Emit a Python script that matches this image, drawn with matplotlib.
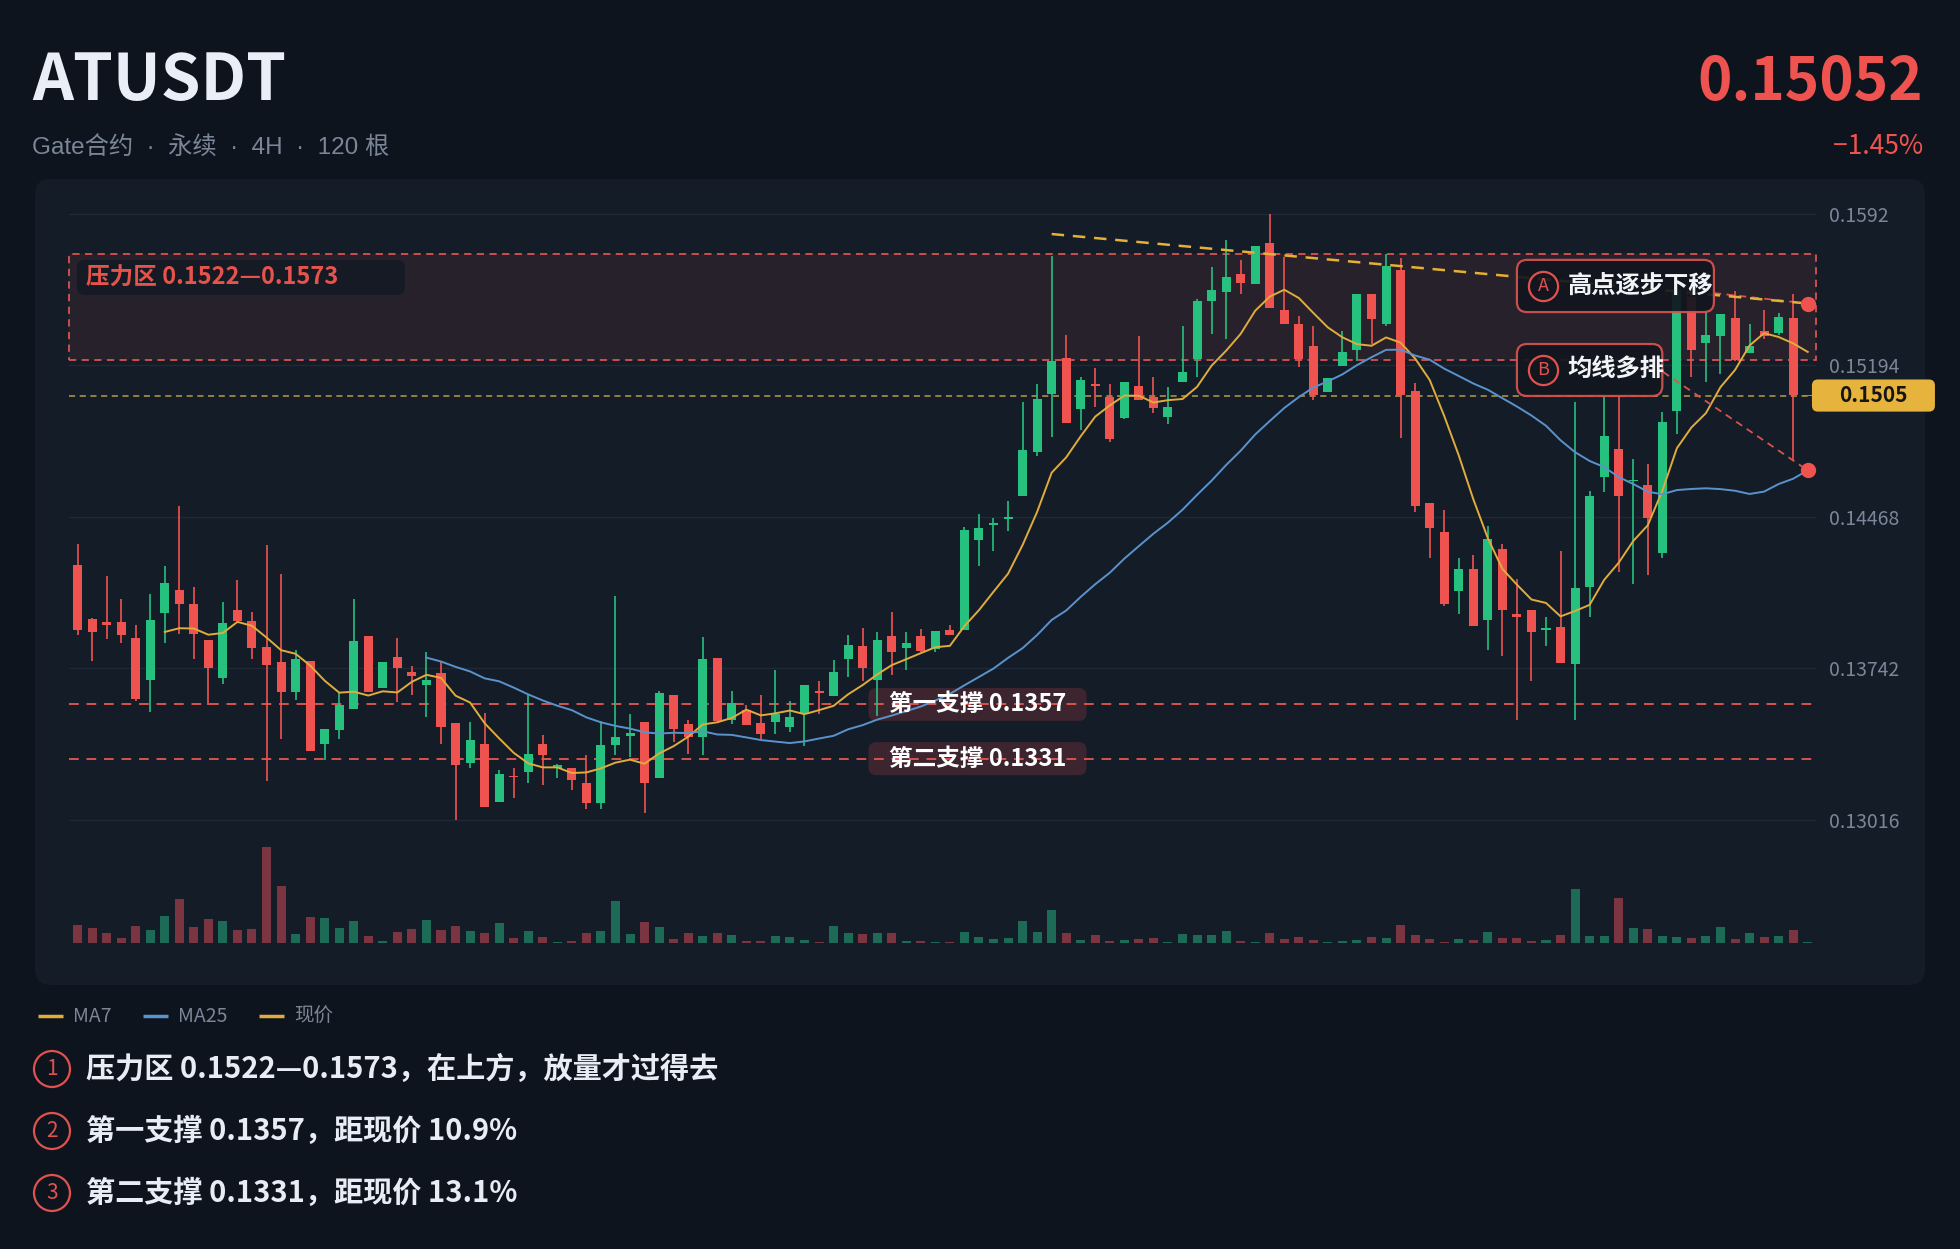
import numpy as np
import pandas as pd
import matplotlib
matplotlib.use('Agg')
import matplotlib.pyplot as plt
from matplotlib.patches import FancyBboxPatch, Rectangle, Circle

plt.rcParams['font.family'] = ['Noto Sans CJK SC', 'DejaVu Sans']

# ---- data (4H candles, 120 bars) ----
opens = [0.14240, 0.13978, 0.13966, 0.13966, 0.13888, 0.13689, 0.14009, 0.14119, 0.14049, 0.13878,
         0.13697, 0.14021, 0.13970, 0.13846, 0.13772, 0.13629, 0.13776, 0.13378, 0.13448, 0.13549,
         0.13896, 0.13649, 0.13796, 0.13727, 0.13663, 0.13719, 0.13480, 0.13288, 0.13380, 0.13101,
         0.13226, 0.13244, 0.13378, 0.13264, 0.13264, 0.13195, 0.13099, 0.13374, 0.13420, 0.13484,
         0.13219, 0.13613, 0.13478, 0.13414, 0.13792, 0.13493, 0.13543, 0.13480, 0.13484, 0.13460,
         0.13523, 0.13633, 0.13609, 0.13786, 0.13852, 0.13689, 0.13896, 0.13842, 0.13896, 0.13836,
         0.13926, 0.13928, 0.14360, 0.14428, 0.14458, 0.14569, 0.14778, 0.15057, 0.15231, 0.14987,
         0.15103, 0.15043, 0.14944, 0.15097, 0.15043, 0.14948, 0.15117, 0.15223, 0.15501, 0.15545,
         0.15631, 0.15585, 0.15780, 0.15460, 0.15392, 0.15286, 0.15067, 0.15193, 0.15266, 0.15535,
         0.15392, 0.15651, 0.15073, 0.14533, 0.14394, 0.14111, 0.14217, 0.13976, 0.14314, 0.14005,
         0.14021, 0.13926, 0.13942, 0.13762, 0.14131, 0.14659, 0.14794, 0.14639, 0.14623, 0.14296,
         0.14974, 0.15520, 0.15300, 0.15336, 0.15420, 0.15256, 0.15360, 0.15352, 0.15420, 0.15050]
highs = [0.14340, 0.13982, 0.14185, 0.14075, 0.13950, 0.14101, 0.14232, 0.14523, 0.14131, 0.13878,
         0.14061, 0.14167, 0.14011, 0.14334, 0.14195, 0.13832, 0.13776, 0.13454, 0.13627, 0.14077,
         0.13896, 0.13772, 0.13890, 0.13752, 0.13822, 0.13772, 0.13480, 0.13484, 0.13527, 0.13254,
         0.13264, 0.13613, 0.13424, 0.13284, 0.13264, 0.13328, 0.13488, 0.14091, 0.13523, 0.13484,
         0.13633, 0.13613, 0.13493, 0.13892, 0.13792, 0.13633, 0.13567, 0.13617, 0.13737, 0.13587,
         0.13663, 0.13683, 0.13782, 0.13902, 0.13936, 0.13916, 0.14011, 0.13916, 0.13932, 0.13922,
         0.13952, 0.14420, 0.14480, 0.14464, 0.14543, 0.15017, 0.15103, 0.15719, 0.15342, 0.15141,
         0.15183, 0.15107, 0.15117, 0.15336, 0.15141, 0.15091, 0.15382, 0.15515, 0.15665, 0.15794,
         0.15699, 0.15768, 0.15920, 0.15715, 0.15430, 0.15382, 0.15133, 0.15360, 0.15539, 0.15535,
         0.15729, 0.15709, 0.15110, 0.14533, 0.14503, 0.14270, 0.14284, 0.14424, 0.14340, 0.14171,
         0.14021, 0.13991, 0.14304, 0.15021, 0.14593, 0.15047, 0.15047, 0.14748, 0.14722, 0.14972,
         0.15571, 0.15560, 0.15460, 0.15440, 0.15551, 0.15392, 0.15460, 0.15446, 0.15539, 0.15052]
lows = [0.13902, 0.13776, 0.13882, 0.13866, 0.13587, 0.13533, 0.13866, 0.13908, 0.13788, 0.13567,
        0.13669, 0.13968, 0.13788, 0.13205, 0.13404, 0.13589, 0.13348, 0.13304, 0.13404, 0.13549,
        0.13629, 0.13649, 0.13583, 0.13617, 0.13509, 0.13378, 0.13015, 0.13264, 0.13079, 0.13101,
        0.13121, 0.13195, 0.13185, 0.13215, 0.13161, 0.13071, 0.13069, 0.13328, 0.13320, 0.13051,
        0.13219, 0.13388, 0.13330, 0.13328, 0.13488, 0.13474, 0.13470, 0.13404, 0.13430, 0.13440,
        0.13370, 0.13523, 0.13609, 0.13703, 0.13683, 0.13513, 0.13713, 0.13737, 0.13822, 0.13822,
        0.13902, 0.13928, 0.14231, 0.14304, 0.14400, 0.14569, 0.14762, 0.14852, 0.14918, 0.14884,
        0.14993, 0.14828, 0.14938, 0.15027, 0.14964, 0.14914, 0.15117, 0.15137, 0.15346, 0.15320,
        0.15539, 0.15585, 0.15470, 0.15392, 0.15187, 0.15027, 0.15067, 0.15193, 0.15217, 0.15296,
        0.15382, 0.14848, 0.14490, 0.14270, 0.14041, 0.14001, 0.13946, 0.13832, 0.13802, 0.13497,
        0.13683, 0.13852, 0.13766, 0.13493, 0.13991, 0.14589, 0.14205, 0.14147, 0.14191, 0.14270,
        0.14868, 0.15141, 0.15117, 0.15151, 0.15216, 0.15256, 0.15320, 0.15340, 0.14738, 0.15050]
closes = [0.13928, 0.13918, 0.13950, 0.13902, 0.13597, 0.13974, 0.14151, 0.14053, 0.13908, 0.13742,
          0.13962, 0.13968, 0.13842, 0.13758, 0.13629, 0.13786, 0.13348, 0.13454, 0.13567, 0.13874,
          0.13629, 0.13772, 0.13746, 0.13707, 0.13687, 0.13464, 0.13278, 0.13398, 0.13079, 0.13238,
          0.13222, 0.13334, 0.13328, 0.13278, 0.13209, 0.13099, 0.13374, 0.13414, 0.13434, 0.13191,
          0.13623, 0.13454, 0.13414, 0.13786, 0.13488, 0.13579, 0.13470, 0.13430, 0.13523, 0.13509,
          0.13663, 0.13623, 0.13723, 0.13856, 0.13742, 0.13878, 0.13822, 0.13862, 0.13826, 0.13922,
          0.13902, 0.14404, 0.14414, 0.14438, 0.14468, 0.14788, 0.15033, 0.15217, 0.14918, 0.15123,
          0.15097, 0.14844, 0.15117, 0.15027, 0.14991, 0.14997, 0.15161, 0.15505, 0.15555, 0.15619,
          0.15591, 0.15768, 0.15470, 0.15392, 0.15227, 0.15053, 0.15133, 0.15260, 0.15539, 0.15416,
          0.15671, 0.15053, 0.14519, 0.14416, 0.14051, 0.14217, 0.13946, 0.14364, 0.14021, 0.13991,
          0.13918, 0.13936, 0.13766, 0.14127, 0.14569, 0.14858, 0.14569, 0.14645, 0.14464, 0.14922,
          0.15555, 0.15266, 0.15340, 0.15440, 0.15220, 0.15286, 0.15336, 0.15426, 0.15053, 0.15052]
volumes = [54, 45, 30, 14, 52, 39, 80, 131, 48, 72,
           65, 40, 43, 288, 171, 26, 79, 74, 44, 66,
           21, 5, 34, 42, 69, 39, 51, 35, 30, 60,
           15, 36, 17, 2, 6, 29, 36, 125, 26, 63,
           48, 12, 30, 22, 29, 23, 6, 6, 21, 19,
           9, 3, 52, 30, 27, 31, 30, 6, 7, 4,
           3, 33, 18, 12, 14, 66, 33, 98, 29, 8,
           23, 6, 9, 12, 15, 3, 27, 24, 24, 37,
           5, 3, 31, 12, 18, 9, 3, 7, 9, 17,
           15, 53, 23, 12, 4, 13, 9, 32, 15, 15,
           5, 9, 24, 161, 21, 22, 134, 45, 42, 22,
           18, 15, 22, 49, 12, 30, 19, 22, 38, 2]

symbol = 'ATUSDT'
subtitle_parts = ['Gate合约', '永续', '4H', '120 根']
last_price = '0.15052'
change_pct = '−1.45%'
zone_low, zone_high = 0.1522, 0.1573
support1, support2 = 0.1357, 0.1331
current = 0.1505
trend_x = [67, 119]
trend_y = [0.15824, 0.15491]
ytick_vals = [0.13016, 0.13742, 0.14468, 0.15194, 0.1592]
ytick_labels = ['0.13016', '0.13742', '0.14468', '0.15194', '0.1592']
legend_items = ['MA7', 'MA25', '现价']
notes = ['压力区 0.1522—0.1573，在上方，放量才过得去',
         '第一支撑 0.1357，距现价 10.9%',
         '第二支撑 0.1331，距现价 13.1%']

# ---- colours ----
BG = '#0e141d'
PANEL = '#141c28'
GRID = '#1f2937'
UP = '#26c07f'
DOWN = '#ef5350'
VUP = '#1d6b57'
VDOWN = '#7b3540'
MA7C = '#e0ac3c'
MA25C = '#5a93cc'
RED = '#e0524f'
GREY = '#7b8698'

W, H = 1960, 1249
fig = plt.figure(figsize=(W / 100, H / 100), dpi=100)
fig.patch.set_facecolor(BG)


def px_rect(l, t, r, b):
    return [l / W, 1 - b / H, (r - l) / W, (b - t) / H]


# background layer in pixel units
bg = fig.add_axes([0, 0, 1, 1])
bg.set_xlim(0, W)
bg.set_ylim(H, 0)
bg.axis('off')
bg.add_patch(FancyBboxPatch((35, 179), 1890, 806, boxstyle='round,pad=0,rounding_size=16',
                            fc=PANEL, ec='none'))

bg.text(32, 100, symbol, fontsize=46, fontweight='bold', color='#e9eef7', va='baseline')
bg.text(32, 154, '  ·  '.join(subtitle_parts), fontsize=17.5, color=GREY, va='baseline',
        family=['Liberation Sans', 'Noto Sans CJK SC'])
bg.text(1923, 100, last_price, fontsize=42, fontweight='bold', color=DOWN, ha='right', va='baseline')
bg.text(1923, 154, change_pct, fontsize=19, color=DOWN, ha='right', va='baseline')

for x0, lab, col in zip([38, 143, 259], legend_items, [MA7C, MA25C, MA7C]):
    bg.plot([x0, x0 + 25], [1016, 1016], color=col, lw=2.5, solid_capstyle='butt')
    bg.text(x0 + 35, 1016, lab, fontsize=14, color=GREY, va='center')

for k, (yy, note) in enumerate(zip([1069, 1131, 1193], notes)):
    bg.add_patch(Circle((52, yy), 18, fill=False, ec=RED, lw=1.6))
    bg.text(52, yy, str(k + 1), fontsize=15, color=RED, ha='center', va='center')
    bg.text(86, yy, note, fontsize=21, fontweight='bold', color='#e8edf5', va='center')

# ---- price axes ----
n = len(closes)
idx = np.arange(n)
o = np.array(opens)
h = np.array(highs)
l = np.array(lows)
c = np.array(closes)
up = c >= o

XL = (-0.585, 119.57)
YL = (0.12393, 0.16035)
AX_W, AX_H = 1747, 760

ax = fig.add_axes(px_rect(69, 190, 1816, 950))
ax.set_zorder(3)
ax.set_facecolor('none')
ax.set_xlim(*XL)
ax.set_ylim(*YL)
for s in ax.spines.values():
    s.set_visible(False)
ax.set_xticks([])
ax.yaxis.tick_right()
ax.set_yticks(ytick_vals, ytick_labels)
ax.tick_params(axis='y', length=0, pad=9, labelsize=14, labelcolor=GREY)
for v in ytick_vals:
    ax.axhline(v, color=GRID, lw=1, zorder=0.5)

xpp = (XL[1] - XL[0]) / AX_W
ypp = (YL[1] - YL[0]) / AX_H


def rbox(x0, y0, x1, y1, r_px, **kw):
    p = FancyBboxPatch((x0, y0), x1 - x0, y1 - y0,
                       boxstyle=f'round,pad=0,rounding_size={r_px * xpp}',
                       mutation_aspect=ypp / xpp, **kw)
    ax.add_patch(p)
    return p


# pressure zone
ax.add_patch(Rectangle((XL[0], zone_low), XL[1] - XL[0], zone_high - zone_low,
                       fc=(0.94, 0.33, 0.31, 0.09), ec='#d9534f', ls=(0, (4, 3)), lw=1.3,
                       zorder=1, clip_on=False))
rbox(-0.04, 0.15532, 22.52, 0.15700, 8, fc='#151a24', ec='none', zorder=5)
ax.text(0.59, 0.15616, '压力区 0.1522—0.1573', fontsize=17, fontweight='bold',
        color='#e5534b', va='center', zorder=7)

# support / current price lines
for sp, lab in [(support1, '第一支撑 0.1357'), (support2, '第二支撑 0.1331')]:
    ax.axhline(sp, color='#d9534f', ls=(0, (5, 4)), lw=1.4, zorder=2)
    rbox(54.4, sp - 0.00079, 69.4, sp + 0.00079, 8, fc='#5a2c35', alpha=0.6, ec='none', zorder=1.6)
    ax.text(61.9, sp, lab, fontsize=17, fontweight='bold', color='white',
            ha='center', va='center', zorder=7)
ax.axhline(current, color='#b99a45', ls=(0, (4, 3)), lw=1.1, zorder=2)

# candles
cols = np.where(up, UP, DOWN)
ax.vlines(idx, l, h, colors=cols, lw=1.2, zorder=3)
body_lo = np.minimum(o, c)
body_h = np.maximum(np.abs(c - o), 0.00004)
ax.bar(idx, body_h, bottom=body_lo, width=0.62, color=cols, lw=0, zorder=3.1)

# moving averages
cs = pd.Series(c)
ma7 = cs.rolling(7).mean()
ma25 = cs.rolling(25).mean()
ax.plot(idx, ma7, color=MA7C, lw=1.4, zorder=4)
ax.plot(idx, ma25, color=MA25C, lw=1.4, zorder=4)

# trendline and annotations
ax.plot(trend_x, trend_y, color='#e5b033', ls=(0, (5, 3.5)), lw=1.8, zorder=4.5)
ax.plot([112.55, trend_x[-1]], [0.15541, trend_y[-1]], color='#d9534f', ls=(0, (4, 3)), lw=1.3, zorder=4.4)
ax.plot([109.05, idx[-1]], [0.15163, ma25.iloc[-1]], color='#d9534f', ls=(0, (4, 3)), lw=1.3, zorder=4.4)
ax.plot([trend_x[-1], idx[-1]], [trend_y[-1], ma25.iloc[-1]], 'o', ms=10, color=DOWN,
        zorder=6, clip_on=False)

for (y0, y1), letter, txt, x1 in [((0.15450, 0.15700), 'A', '高点逐步下移', 112.55),
                                   ((0.15048, 0.15297), 'B', '均线多排', 109.0)]:
    yc = (y0 + y1) / 2
    rbox(99.0, y0, x1, y1, 10, fc='#12161e', alpha=0.92, ec='#d9534f', lw=1.6, zorder=6)
    ax.plot([100.8], [yc], 'o', ms=21, mfc='none', mec=RED, mew=1.6, zorder=7)
    ax.text(100.8, yc, letter, fontsize=13, color=RED, ha='center', va='center', zorder=7)
    ax.text(102.5, yc, txt, fontsize=17.5, fontweight='bold', color='#f2f4f8', va='center', zorder=7)

# current price tag
rbox(119.29, current - 0.00077, 127.75, current + 0.00077, 6, fc='#e6b43c', ec='none',
     zorder=6, clip_on=False)
ax.text(123.5, current, '0.1505', fontsize=15, fontweight='bold', color='#151515',
        ha='center', va='center', zorder=7, clip_on=False)

# ---- volume ----
axv = fig.add_axes(px_rect(69, 823, 1816, 943))
axv.set_zorder(2)
axv.set_facecolor('none')
axv.bar(idx, volumes, width=0.62, color=np.where(up, VUP, VDOWN), lw=0)
axv.set_xlim(*XL)
axv.set_ylim(0, 360)
axv.axis('off')

fig.savefig('out.png', dpi=100, facecolor=BG)
